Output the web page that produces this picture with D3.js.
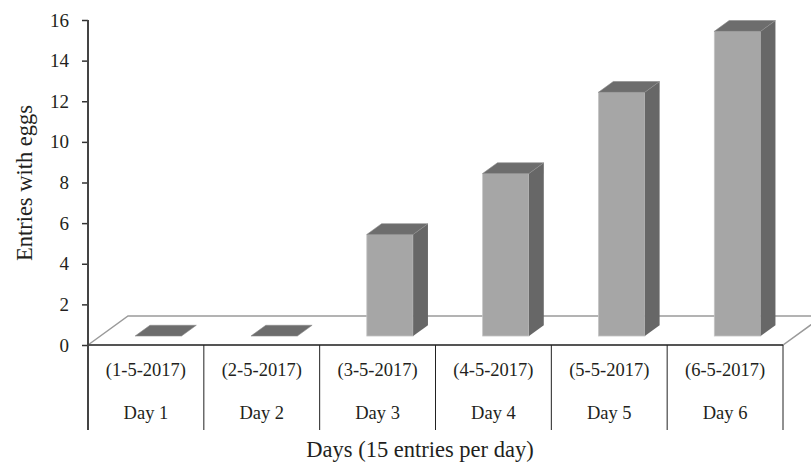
<!DOCTYPE html>
<html>
<head>
<meta charset="utf-8">
<script src="https://cdn.jsdelivr.net/npm/d3@7/dist/d3.min.js"></script>
<style>
  html, body { margin: 0; padding: 0; background: #fff; }
  svg { display: block; }
  text { font-family: "Liberation Serif", "Times New Roman", serif; fill: #231f20; }
</style>
</head>
<body>
<svg id="chart" width="811" height="463"></svg>
<script>
// Eggs found per day (15 entries checked each day)
const days = ["Day 1", "Day 2", "Day 3", "Day 4", "Day 5", "Day 6"];
const dates = ["(1-5-2017)", "(2-5-2017)", "(3-5-2017)", "(4-5-2017)", "(5-5-2017)", "(6-5-2017)"];
const entriesWithEggs = [0, 0, 5, 8, 12, 15];
const yTicks = [0, 2, 4, 6, 8, 10, 12, 14, 16];

const serif = '"Liberation Serif", "Times New Roman", serif';
const svg = d3.select("#chart");

const x = d3.scaleBand().domain(days).range([88, 783]).paddingInner(0).paddingOuter(0);
const y = d3.scaleLinear().domain([0, 16]).range([345, 20]);

// depth of the floor (3D perspective offset)
const depth = { dx: 40, dy: -29 };
const frontF = 0.31, backF = 0.68;
const barW = x.bandwidth() * 0.4;

// floor
const floor = svg.append("g");
const fx0 = x.range()[0], fx1 = x.range()[1], fy = y(0);
floor.append("path")
  .attr("d", `M${fx0},${fy} L${fx0 + depth.dx},${fy + depth.dy} L${fx1 + depth.dx},${fy + depth.dy} L${fx1},${fy} Z`)
  .attr("fill", "#fff").attr("stroke", "#9a9a9a").attr("stroke-width", 1.5);

// bars
const bars = svg.append("g").selectAll("g").data(days).join("g");
bars.each(function(d, i) {
  const g = d3.select(this);
  const v = entriesWithEggs[i];
  const ox = depth.dx * frontF, oy = depth.dy * frontF;
  const bx = depth.dx * (backF - frontF), by = depth.dy * (backF - frontF);
  const x0 = x(d) + x.bandwidth() / 2 - barW / 2 + ox;
  const x1 = x0 + barW;
  const yb = y(0) + oy;
  const yt = yb - (y(0) - y(v));
  if (v > 0) {
    // front face
    g.append("rect").attr("x", x0).attr("y", yt).attr("width", barW).attr("height", yb - yt)
      .attr("fill", "#a6a6a6").attr("stroke", "#c4c4c4").attr("stroke-width", 0.8);
    // side face
    g.append("path")
      .attr("d", `M${x1},${yt} L${x1 + bx},${yt + by} L${x1 + bx},${yb + by} L${x1},${yb} Z`)
      .attr("fill", "#676767");
  }
  // top face
  g.append("path")
    .attr("d", `M${x0},${yt} L${x0 + bx},${yt + by} L${x1 + bx},${yt + by} L${x1},${yt} Z`)
    .attr("fill", "#6d6d6d").attr("stroke", "#8a8a8a").attr("stroke-width", 0.6);
});

// front edge of the floor
svg.append("line").attr("x1", fx0).attr("x2", fx1).attr("y1", fy).attr("y2", fy)
  .attr("stroke", "#555").attr("stroke-width", 2);

// category dividers
const bounds = days.map(d => x(d)).concat([fx1]);
svg.append("g").selectAll("line").data(bounds.slice(1)).join("line")
  .attr("x1", d => d).attr("x2", d => d).attr("y1", fy).attr("y2", 430)
  .attr("stroke", "#222").attr("stroke-width", 1);

// category labels
svg.append("g").selectAll("text").data(dates).join("text")
  .attr("x", (d, i) => x(days[i]) + x.bandwidth() / 2).attr("y", 376)
  .attr("text-anchor", "middle").style("font-family", serif).style("font-size", "18.5px").text(d => d);
svg.append("g").selectAll("text").data(days).join("text")
  .attr("x", d => x(d) + x.bandwidth() / 2).attr("y", 419)
  .attr("text-anchor", "middle").style("font-family", serif).style("font-size", "18.5px").text(d => d);

// y axis
const yAxis = svg.append("g").attr("transform", `translate(${fx0},0)`)
  .call(d3.axisLeft(y).tickValues(yTicks).tickSize(6).tickSizeOuter(0).tickPadding(13));
yAxis.select(".domain").remove();
yAxis.selectAll(".tick line").attr("stroke", "#333").attr("stroke-width", 1.5);
yAxis.selectAll(".tick text").style("font-family", serif)
  .style("font-size", "19px").style("fill", "#231f20");
svg.append("line").attr("x1", fx0).attr("x2", fx0).attr("y1", y(16)).attr("y2", 430)
  .attr("stroke", "#444").attr("stroke-width", 2);

// axis titles
svg.append("text").attr("transform", "translate(32,183) rotate(-90)")
  .attr("text-anchor", "middle").style("font-family", serif).style("font-size", "22.5px")
  .text("Entries with eggs");
svg.append("text").attr("x", 420).attr("y", 457)
  .attr("text-anchor", "middle").style("font-family", serif).style("font-size", "22.5px")
  .text("Days (15 entries per day)");
</script>
</body>
</html>
